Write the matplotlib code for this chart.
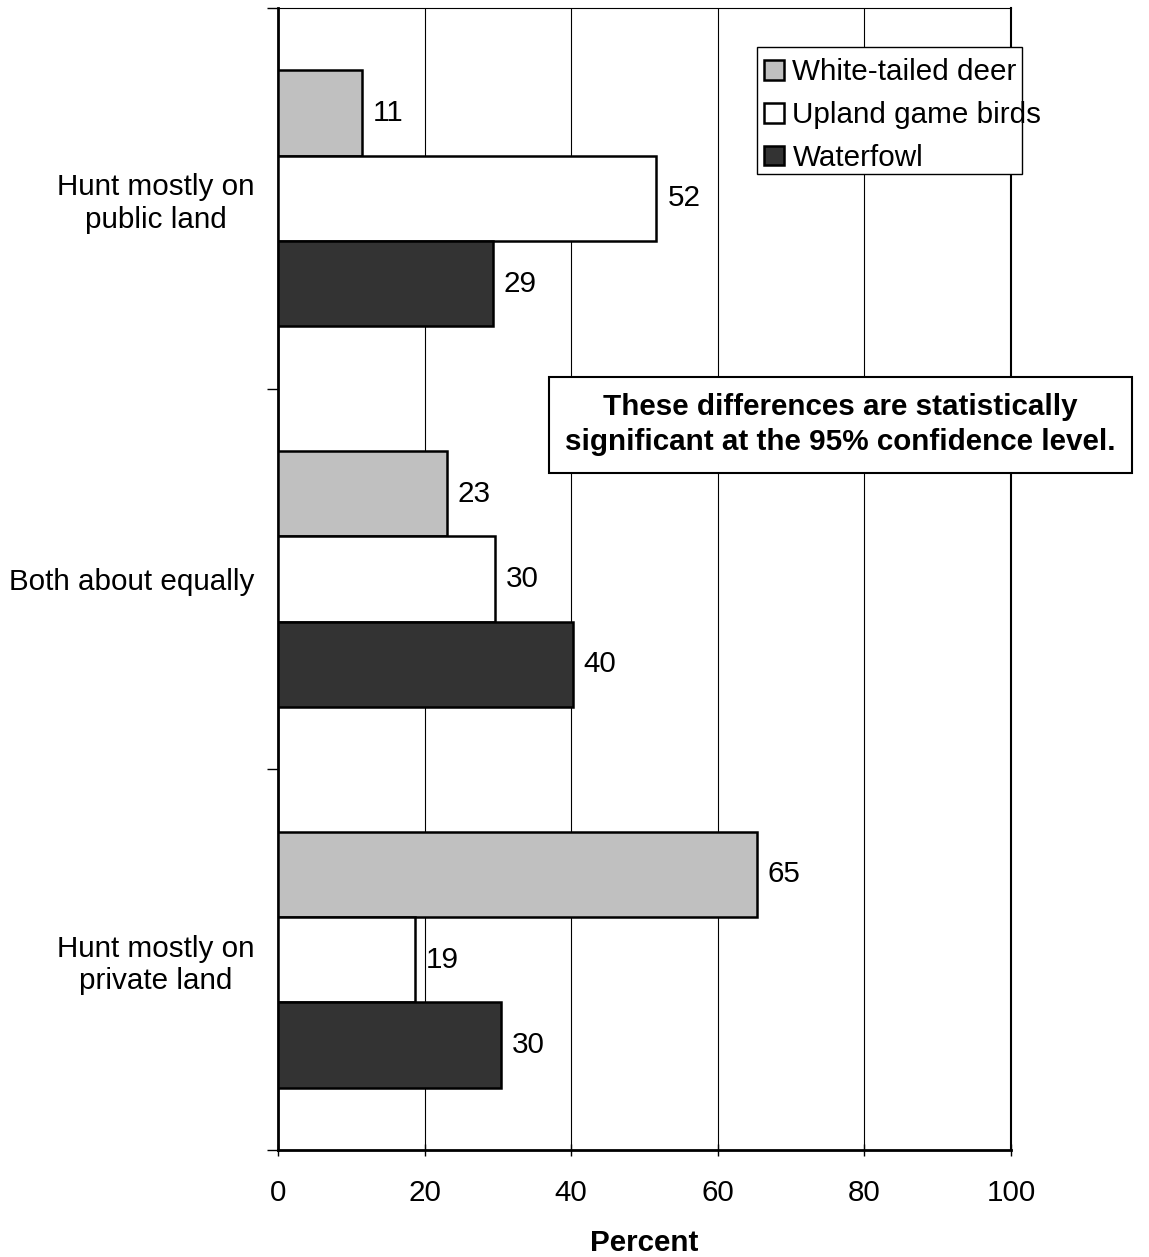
import matplotlib
matplotlib.use("Agg")
import matplotlib.pyplot as plt
from matplotlib.patches import Rectangle
import numpy as np

plt.rcParams['font.family'] = ['Liberation Sans', 'DejaVu Sans']

categories = ["Hunt mostly on\npublic land", "Both about equally", "Hunt mostly on\nprivate land"]
series = ["White-tailed deer", "Upland game birds", "Waterfowl"]
deer = [11.4, 23.0, 65.3]
upland = [51.6, 29.6, 18.7]
waterfowl = [29.3, 40.2, 30.4]
colors = ["#c0c0c0", "#ffffff", "#333333"]
xticks = [0, 20, 40, 60, 80, 100]

fs = 21.3

fig = plt.figure(figsize=(11.49, 12.57), dpi=100)
ax = fig.add_axes([0.2419, 0.0851, 0.638, 0.9085])

ypos = np.arange(len(categories))  # 0 at top
h = 0.224
for i, (vals, c, name) in enumerate(zip([deer, upland, waterfowl], colors, series)):
    y = ypos + (i - 1) * h
    ax.barh(y, vals, height=h, color=c, edgecolor="black", linewidth=1.8, label=name, zorder=3)
    for yy, v in zip(y, vals):
        ax.annotate(f"{round(v)}", xy=(v, yy), xytext=(8, 0), textcoords="offset points",
                    ha="left", va="center", fontsize=fs)

ax.set_xlim(0, 100)
ax.set_ylim(2.5, -0.5)
ax.set_xticks(xticks)
ax.set_xticklabels([str(t) for t in xticks], fontsize=fs)
ax.set_yticks(ypos)
ax.set_yticklabels(categories, fontsize=fs, ha="right", multialignment="center")
ax.tick_params(axis="y", length=0, pad=17)
ax.set_yticks([-0.5, 0.5, 1.5, 2.5], minor=True)
ax.tick_params(axis="y", which="minor", length=8, width=1, direction="out")
ax.tick_params(axis="x", length=8, width=1, direction="inout", pad=17)
ax.xaxis.grid(True, color="black", linewidth=0.8, zorder=0)
ax.set_xlabel("Percent", fontsize=fs, fontweight="bold", labelpad=16)

ax.spines["left"].set_linewidth(2)
ax.spines["bottom"].set_linewidth(2)
ax.spines["right"].set_linewidth(1.5)
ax.spines["top"].set_linewidth(0.8)

# legend box is narrower than its text in the original, so draw the frame separately
ax.add_patch(Rectangle((0.6535, 0.8546), 0.3615, 0.1114, transform=ax.transAxes,
                       facecolor="white", edgecolor="black", linewidth=1, zorder=4, clip_on=False))
leg = ax.legend(loc="upper left", bbox_to_anchor=(0.6535, 0.9625), fontsize=fs, frameon=False,
                handlelength=0.65, handleheight=0.65, handletextpad=0.3, borderpad=0.25,
                labelspacing=0.5, borderaxespad=0)
leg.set_zorder(5)

ax.text(0.767, 0.635, "These differences are statistically\nsignificant at the 95% confidence level.",
        transform=ax.transAxes, ha="center", va="center", fontsize=fs, fontweight="bold",
        linespacing=1.32, zorder=6,
        bbox=dict(boxstyle="square,pad=0.55", facecolor="white", edgecolor="black", linewidth=1.5))

fig.savefig("out.png", dpi=100)
